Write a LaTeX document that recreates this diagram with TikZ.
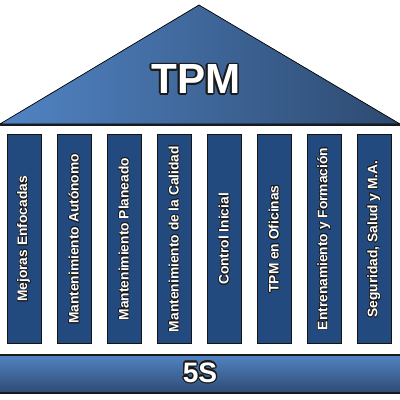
\documentclass[tikz,border=0pt]{standalone}
\usepackage{fontspec}
\setmainfont{Liberation Sans}
\usepackage[copies]{contour}
\usetikzlibrary{positioning}
\definecolor{roofleft}{HTML}{5184C4}
\definecolor{roofright}{HTML}{2D4A70}
\definecolor{pillarfill}{HTML}{224A7F}
\definecolor{pillarline}{HTML}{141414}
\definecolor{basetop}{HTML}{5283C3}
\definecolor{basebottom}{HTML}{2D4A73}
\definecolor{outlinecol}{HTML}{1A1A1A}
\tikzset{
  pillar/.style={rectangle, fill=pillarfill, draw=pillarline, line width=0.7pt,
    outer sep=0pt, inner sep=0pt, minimum width=0.85cm, minimum height=5.2cm,
    text=white, font=\fontsize{9.8}{10}\selectfont\bfseries},
}
\newcommand{\whitetext}[2][0.45pt]{\contourlength{#1}\contour{outlinecol}{\textcolor{white}{#2}}}

\begin{document}
\begin{tikzpicture}[x=0.025cm, y=-0.025cm, node distance=0.4cm]
  \useasboundingbox (0,0) rectangle (400,400);
  % roof
  \shadedraw[left color=roofleft, right color=roofright, draw=black, line width=0.5pt]
    (0,124) -- (199,5) -- (400,124) -- cycle;
  \draw[outlinecol, line width=1.2pt] (0,125) -- (400,125);
  \node[font=\fontsize{30}{30}\selectfont\bfseries] (tpm) at (196,80)
    {\whitetext[1.1pt]{TPM}};
  % pillars
  \node[pillar] (p1) at (24,239) {\rotatebox{90}{\whitetext{Mejoras Enfocadas}}};
  \node[pillar, right=of p1] (p2) {\rotatebox{90}{\whitetext{Mantenimiento Aut\'onomo}}};
  \node[pillar, right=of p2] (p3) {\rotatebox{90}{\whitetext{Mantenimiento Planeado}}};
  \node[pillar, right=of p3] (p4) {\rotatebox{90}{\whitetext{Mantenimiento de la Calidad}}};
  \node[pillar, right=of p4] (p5) {\rotatebox{90}{\whitetext{Control Inicial}}};
  \node[pillar, right=of p5] (p6) {\rotatebox{90}{\whitetext{TPM en Oficinas}}};
  \node[pillar, right=of p6] (p7) {\rotatebox{90}{\whitetext{Entrenamiento y Formaci\'on}}};
  \node[pillar, right=of p7] (p8) {\rotatebox{90}{\whitetext{Seguridad, Salud y M.A.}}};
  % base
  \shade[top color=basetop, bottom color=basebottom] (0,355) rectangle (400,393);
  \draw[outlinecol, line width=0.8pt] (0,355) -- (400,355);
  \draw[outlinecol, line width=0.8pt] (0,393) -- (400,393);
  \node[font=\fontsize{20}{20}\selectfont\bfseries] (fives) at (200,373)
    {\whitetext[0.9pt]{5S}};
\end{tikzpicture}
\end{document}
